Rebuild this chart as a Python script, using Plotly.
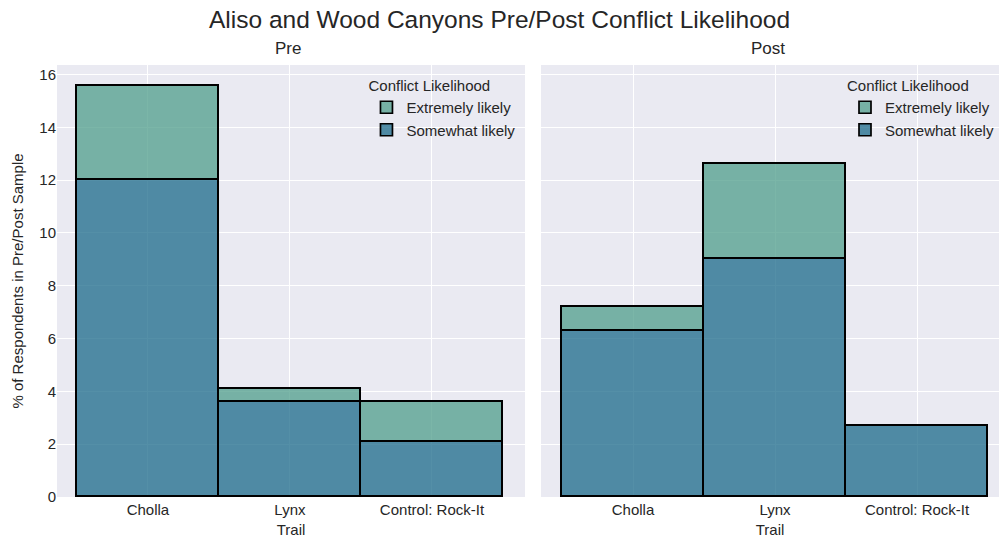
import plotly.graph_objects as go
from plotly.subplots import make_subplots

trails = ["Cholla", "Lynx", "Control: Rock-It"]
pre_somewhat = [12.0, 3.6, 2.1]
pre_extremely = [3.55, 0.5, 1.5]
post_somewhat = [6.3, 9.0, 2.7]
post_extremely = [0.9, 3.6, 0.0]

col_ext = "rgba(79,158,139,0.75)"
col_some = "rgba(27,106,137,0.75)"
font = "Liberation Sans, Arial, sans-serif"

fig = make_subplots(rows=1, cols=2, shared_yaxes=True, horizontal_spacing=0.017,
                    subplot_titles=["Pre", "Post"])

panels = [(1, pre_somewhat, pre_extremely, "legend"), (2, post_somewhat, post_extremely, "legend2")]
for col, some, ext, lg in panels:
    fig.add_trace(go.Bar(x=trails, y=some, name="Somewhat likely", width=1,
                         marker=dict(color=col_some, line=dict(color="black", width=1.7)),
                         legend=lg, legendrank=2), row=1, col=col)
    fig.add_trace(go.Bar(x=trails, y=ext, name="Extremely likely", width=1,
                         marker=dict(color=col_ext, line=dict(color="black", width=1.7)),
                         legend=lg, legendrank=1), row=1, col=col)

leg = dict(title=dict(text="Conflict Likelihood", font=dict(size=15)), y=0.985, yanchor="top",
           xanchor="right", bgcolor="rgba(0,0,0,0)", font=dict(size=15), traceorder="normal")
fig.update_layout(
    barmode="stack", bargap=0,
    width=999, height=538,
    margin=dict(l=57, r=0, t=65, b=41),
    paper_bgcolor="white", plot_bgcolor="#EAEAF2",
    font=dict(family=font, size=15, color="#262626"),
    title=dict(text="Aliso and Wood Canyons Pre/Post Conflict Likelihood", x=0.5, xanchor="center",
               y=0.963, yanchor="middle", font=dict(size=24.5, color="#262626")),
    legend=dict(leg, x=0.492),
    legend2=dict(leg, x=1.0),
)
fig.update_layout(xaxis=dict(domain=[0, 0.4968]), xaxis2=dict(domain=[0.5138, 1.0]))
fig.update_xaxes(showgrid=True, gridcolor="white", gridwidth=1.2, zeroline=False, automargin=False,
                 title=dict(text="Trail", standoff=8, font=dict(size=15)), ticklabelstandoff=2,
                 tickfont=dict(size=15), ticks="", showline=False)
fig.update_xaxes(range=[-0.64, 2.655], row=1, col=1)
fig.update_xaxes(range=[-0.648, 2.577], row=1, col=2)
fig.update_yaxes(range=[0, 16.36], dtick=2, showgrid=True, gridcolor="white", gridwidth=1.2,
                 zeroline=False, tickfont=dict(size=15), ticks="", showline=False, automargin=False)
fig.update_yaxes(title=dict(text="% of Respondents in Pre/Post Sample", font=dict(size=15), standoff=12),
                 row=1, col=1)
for ann in fig.layout.annotations:
    ann.font = dict(size=17, color="#262626", family=font)
    ann.yshift = 5

fig.write_html("out.html", config={"displayModeBar": False},
               post_script="document.body.style.margin='0';document.body.style.overflow='hidden';")
